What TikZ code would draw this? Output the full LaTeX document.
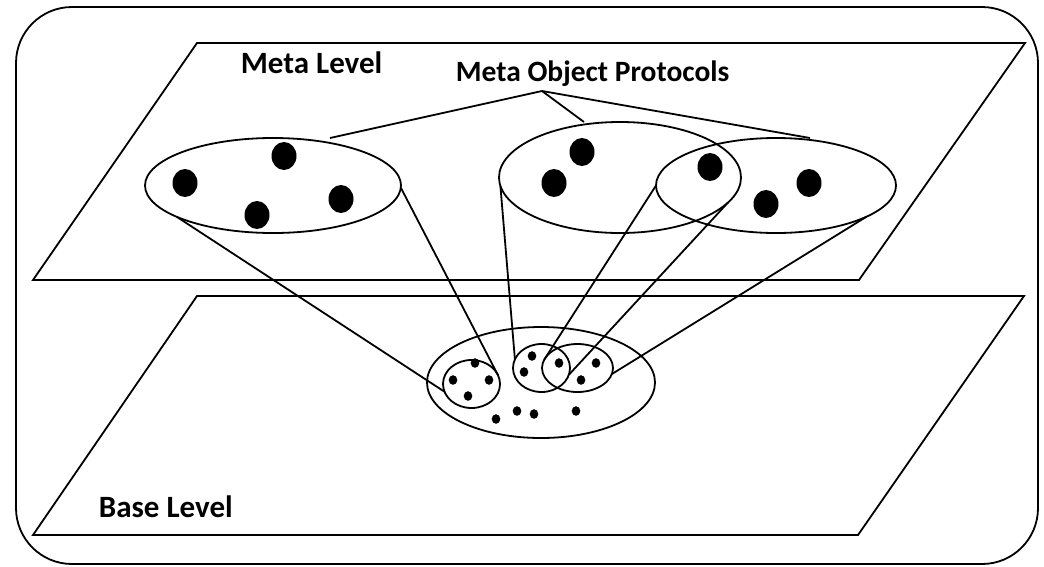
\documentclass[tikz,border=0pt]{standalone}
\usepackage{fontspec}
\setmainfont{Carlito}
\usetikzlibrary{shapes.geometric}
\begin{document}
\begin{tikzpicture}[x=1pt,y=-1pt,line width=1.8pt,
  ell/.style={draw,ellipse,inner sep=0pt,outer sep=0pt},
  lbl/.style={font=\fontsize{31}{37}\selectfont\bfseries,inner sep=0pt,anchor=base west},
]
\useasboundingbox (0,0) rectangle (1044,566);
% outer frame
\draw[rounded corners=56pt] (16,7) rectangle (1038,564);
% planes
\draw (33,280) -- (859,280) -- (1025,43) -- (197,43) -- cycle;
\draw (33,535) -- (858,535) -- (1024,296) -- (197,296) -- cycle;
% labels
\node[lbl] (ml) at (240,73) {Meta Level};
\node[lbl,font=\fontsize{29.5}{35}\selectfont\bfseries] (mop) at (455,81) {Meta Object Protocols};
\node[lbl] (bl) at (98,517) {Base Level};
% meta-level ellipses
\node[ell,minimum width=256pt,minimum height=95pt] (L) at (273,185.5) {};
\node[ell,minimum width=242pt,minimum height=111pt] (M) at (620,177.5) {};
\node[ell,minimum width=240pt,minimum height=95pt] (R) at (776,185.5) {};
% base-level ellipses
\node[ell,minimum width=228pt,minimum height=111pt] (B) at (541,382.5) {};
\node[ell,minimum width=57pt,minimum height=48pt] (sL) at (471.5,384) {};
\node[ell,minimum width=57pt,minimum height=48pt] (sM) at (541.5,368) {};
\node[ell,minimum width=71pt,minimum height=48pt] (sR) at (577.5,368) {};
% big dots
\foreach \p in {(185,183),(284,156),(257,215),(341,199),(582,152),(554,183),(710,167),(766,204),(809,183)}
  \fill \p ellipse [x radius=12.5pt,y radius=14pt];
% small dots
\foreach \p in {(475,363),(453,380),(489,380),(468,396),(532,356),(524,372),(559,363),(596,363),(581,380),(496,419),(517,411),(534,414),(576,411)}
  \fill \p ellipse [x radius=4.3pt,y radius=4.8pt];
% meta object protocol pointer lines
\coordinate (apex) at (542,91);
\coordinate (pL) at (330,138);
\coordinate (pM) at (584,122);
\coordinate (pR) at (810,138);
\draw (pL) -- (apex) -- (pR);
\draw (apex) -- (pM);
% cones
\draw (L.198) -- (sL.196);
\draw (L.-1) -- (sL.18);
\draw (M.184.5) -- (sM.162);
\draw (M.-13) -- (sM.-14);
\draw (R.180) -- (sR.166);
\draw (R.-19) -- (sR.-10);
\end{tikzpicture}
\end{document}
